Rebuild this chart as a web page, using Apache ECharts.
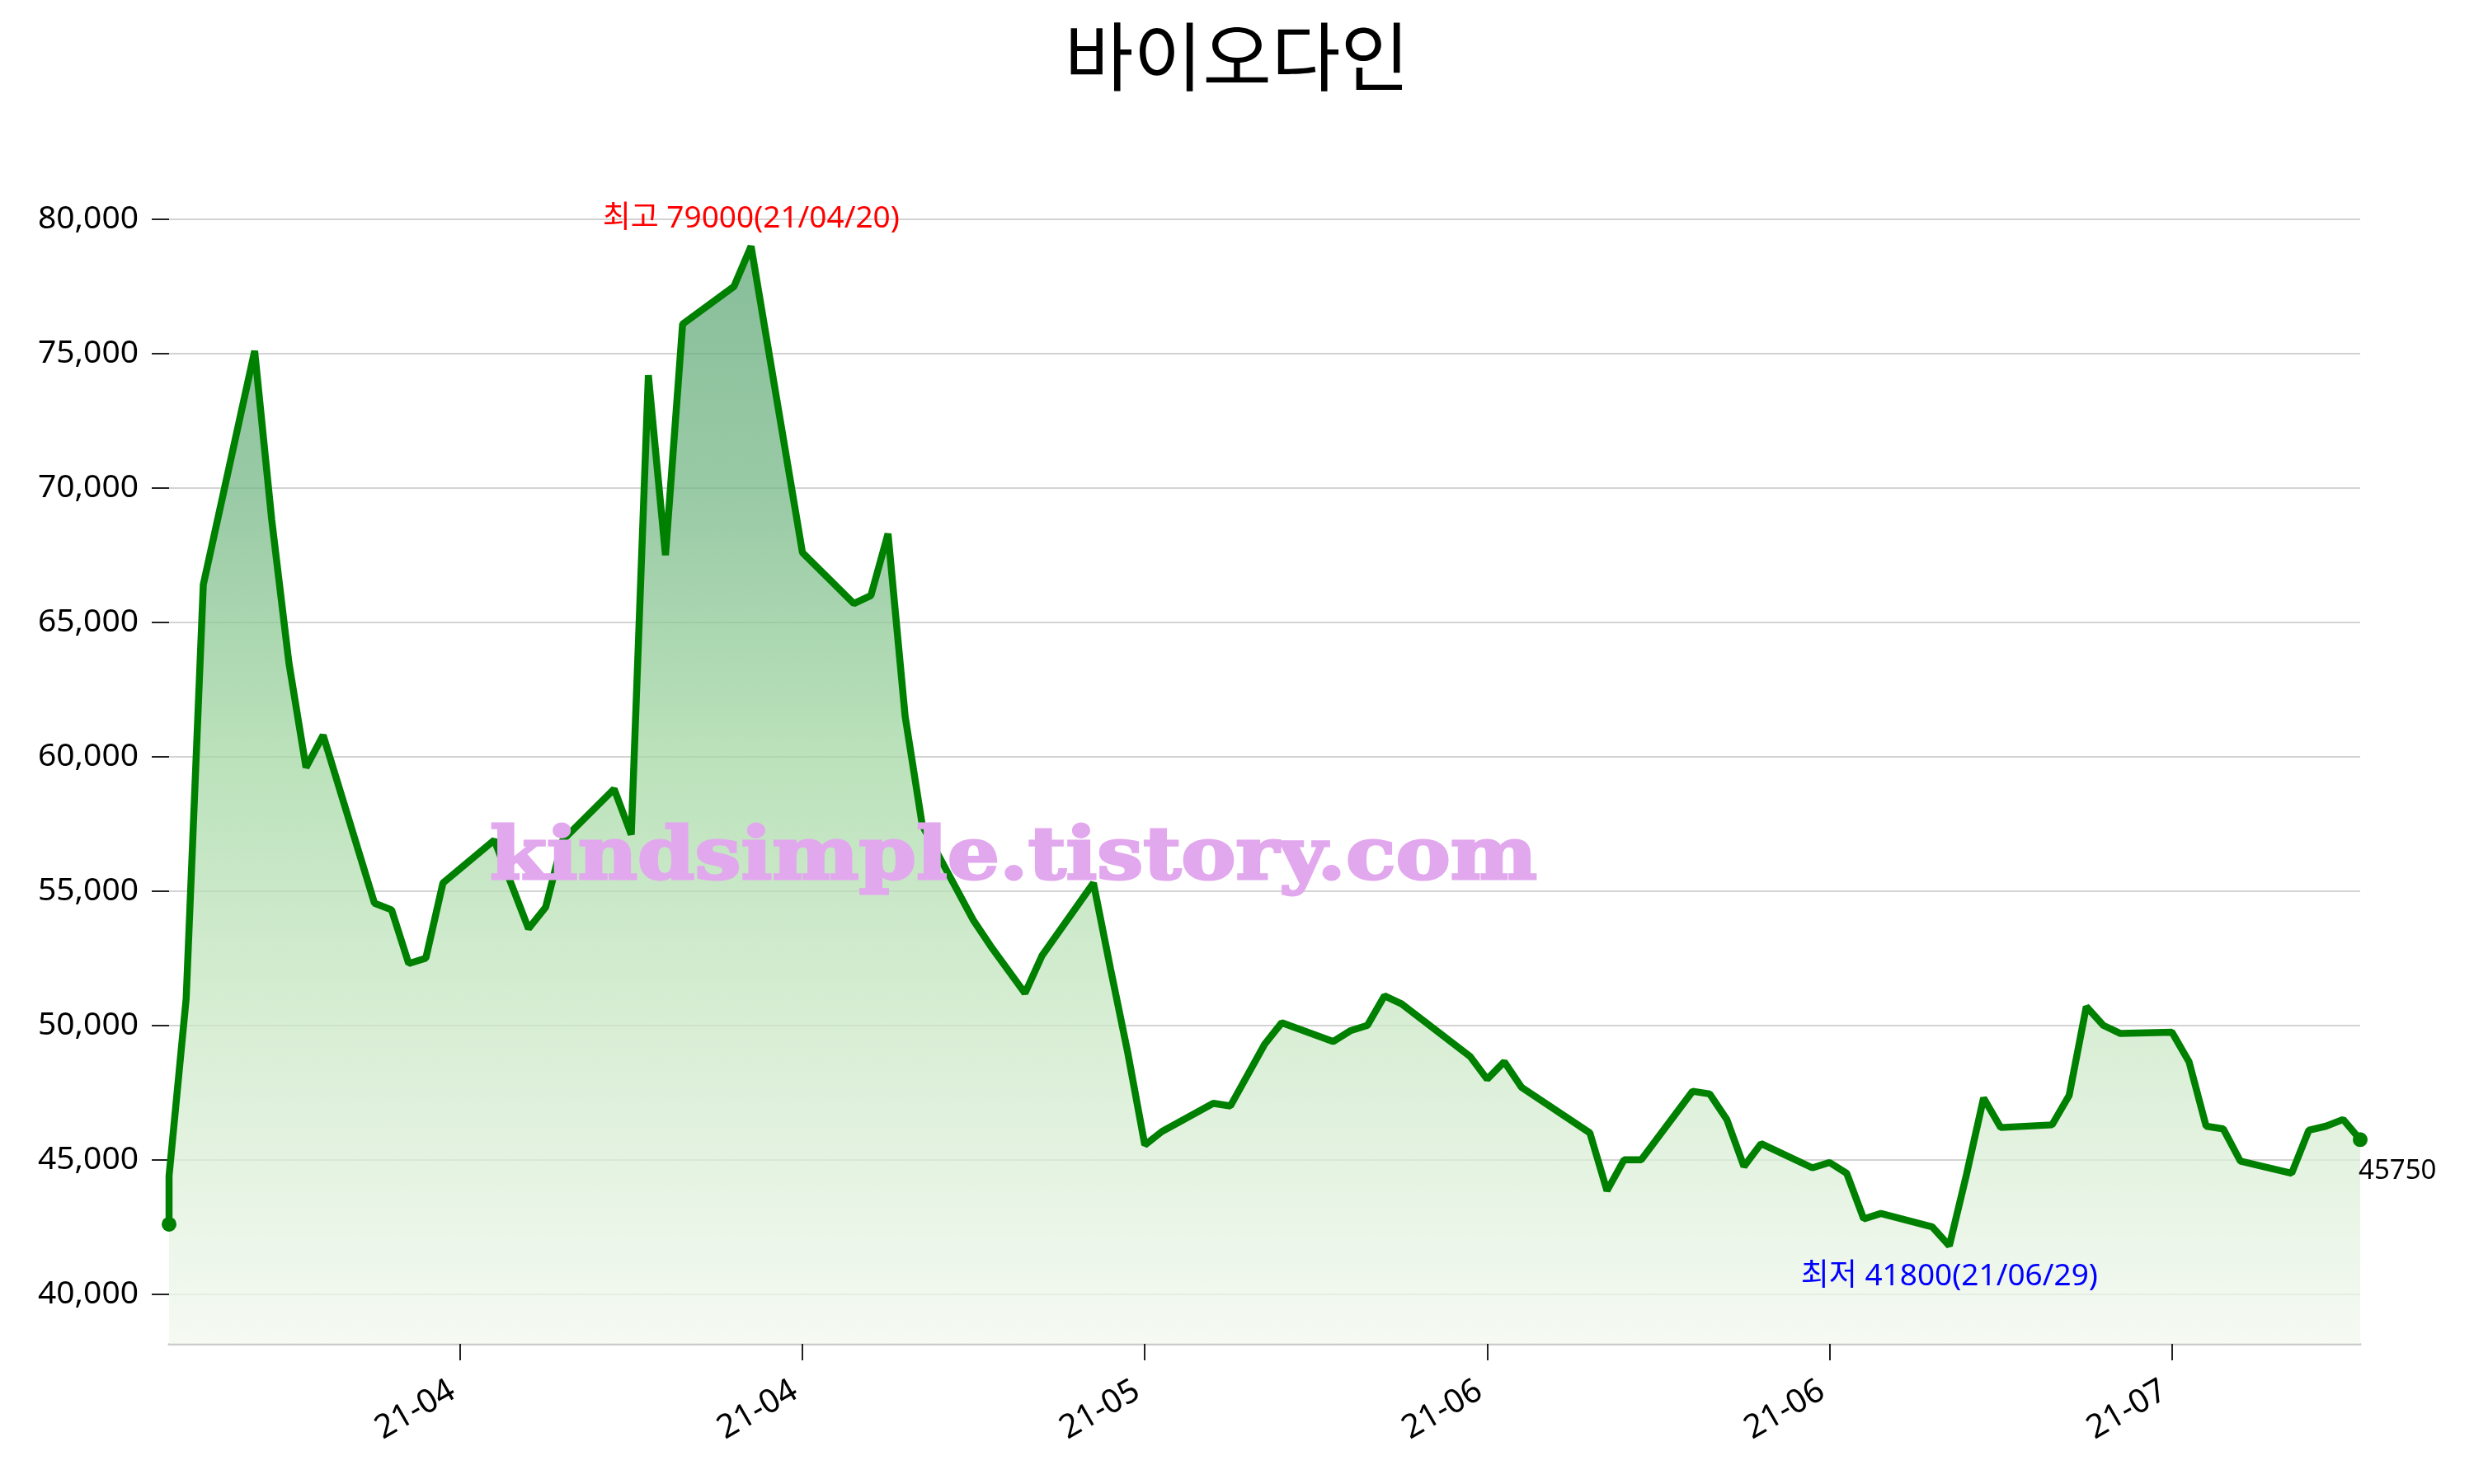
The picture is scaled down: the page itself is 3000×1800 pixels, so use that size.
<!DOCTYPE html>
<html><head><meta charset="utf-8">
<script src="https://cdn.jsdelivr.net/npm/echarts@6/dist/echarts.min.js"></script>
<style>html,body{margin:0;padding:0;background:#fff}#c{width:3000px;height:1800px}</style>
</head><body><div id="c"></div>
<script>
const chartTitle = '바이오다인';
const watermarkText = 'kindsimple.tistory.com';
const dates = ['2021-03-17','2021-03-17','2021-03-18','2021-03-19','2021-03-22','2021-03-23','2021-03-24','2021-03-25','2021-03-26','2021-03-29','2021-03-30','2021-03-31','2021-04-01','2021-04-02','2021-04-05','2021-04-07','2021-04-08','2021-04-09','2021-04-12','2021-04-13','2021-04-14','2021-04-15','2021-04-16','2021-04-19','2021-04-20','2021-04-23','2021-04-26','2021-04-27','2021-04-28','2021-04-29','2021-04-30','2021-05-03','2021-05-04','2021-05-06','2021-05-07','2021-05-10','2021-05-11','2021-05-12','2021-05-13','2021-05-14','2021-05-17','2021-05-18','2021-05-20','2021-05-21','2021-05-24','2021-05-25','2021-05-26','2021-05-27','2021-05-28','2021-06-01','2021-06-02','2021-06-03','2021-06-04','2021-06-08','2021-06-09','2021-06-10','2021-06-11','2021-06-14','2021-06-15','2021-06-16','2021-06-17','2021-06-18','2021-06-21','2021-06-22','2021-06-23','2021-06-24','2021-06-25','2021-06-28','2021-06-29','2021-06-30','2021-07-01','2021-07-02','2021-07-05','2021-07-06','2021-07-07','2021-07-08','2021-07-09','2021-07-12','2021-07-13','2021-07-14','2021-07-15','2021-07-16','2021-07-19','2021-07-20','2021-07-21','2021-07-22','2021-07-23'];
const closes = [42600,44400,51000,66400,75100,68800,63500,59600,60800,54550,54300,52300,52500,55300,56900,53600,54400,56900,58800,57100,74200,67500,76100,77500,79000,67600,65700,66000,68300,61500,57450,53900,52950,51200,52600,55300,52100,49000,45550,46050,47100,47000,49300,50100,49400,49800,50000,51100,50800,48850,48000,48650,47700,46000,43850,45000,45000,47550,47450,46500,44750,45600,44700,44900,44500,42800,43000,42500,41800,44450,47300,46200,46300,47400,50700,50000,49700,49750,48650,46250,46150,44950,44500,46100,46250,46500,45750];
const xTickDates = ['2021-04-03','2021-04-23','2021-05-13','2021-06-02','2021-06-22','2021-07-12'];
const yTicks = [40000,45000,50000,55000,60000,65000,70000,75000,80000];
const yMin = 38150, yMax = 80000;

function ts(s){const p=s.split('-').map(Number);return Date.UTC(p[0],p[1]-1,p[2]);}
function shortDate(s){return s.slice(2).replace(/-/g,'/');}
const seriesData = dates.map((d,i)=>[ts(d), closes[i]]);
let maxI=0,minI=0;
closes.forEach((v,i)=>{ if(v>closes[maxI]) maxI=i; if(v<closes[minI]) minI=i; });
const lastI = closes.length-1;
const FONT = "'Noto Sans', 'Noto Sans CJK KR', sans-serif";

const chart = echarts.init(document.getElementById('c'), null, {renderer:'canvas'});
chart.setOption({
  animation:false,
  backgroundColor:'#ffffff',
  title:{text:chartTitle,left:'center',top:18,
    textStyle:{fontFamily:"'Noto Sans CJK KR', sans-serif",fontSize:91,fontWeight:'normal',color:'#000'}},
  grid:{left:205,right:138,top:266,bottom:170},
  xAxis:{type:'value',min:ts(dates[0]),max:ts(dates[lastI]),scale:true,
    axisLine:{show:true,lineStyle:{color:'#cccccc',width:3}},
    axisTick:{show:true,customValues:xTickDates.map(ts),length:20,lineStyle:{color:'#222',width:2}},
    axisLabel:{customValues:xTickDates.map(ts),rotate:30,fontFamily:FONT,fontSize:40,color:'#000',margin:49,
      formatter:function(v){const d=new Date(v);return String(d.getUTCFullYear()).slice(2)+'-'+String(d.getUTCMonth()+1).padStart(2,'0')+' ';}},
    splitLine:{show:false}},
  yAxis:{type:'value',min:yMin,max:yMax,splitNumber:8,
    axisLine:{show:false},
    axisTick:{show:true,customValues:yTicks,length:21,lineStyle:{color:'#222',width:2}},
    axisLabel:{customValues:yTicks,fontFamily:FONT,fontSize:39,color:'#000',margin:37,
      formatter:function(v){return Number(v).toLocaleString('en-US');}},
    splitLine:{show:true,lineStyle:{color:'#d3d3d3',width:2}}},
  graphic:[{type:'text',z:100,x:1229,y:1043,scaleX:1.13,style:{text:watermarkText,x:0,y:0,align:'center',verticalAlign:'middle',
    font:'bold 88px "DejaVu Serif"',fill:'#e2a8ee',stroke:'#e2a8ee',lineWidth:3}}],
  series:[{
    type:'line',data:seriesData,showSymbol:true,showAllSymbol:true,symbol:'circle',
    symbolSize:function(v,p){return (p.dataIndex===0||p.dataIndex===lastI)?18:0;},
    lineStyle:{color:'#008000',width:8.5},itemStyle:{color:'#008000'},
    areaStyle:{origin:'start',opacity:1,color:new echarts.graphic.LinearGradient(0,0,0,1,[
      {offset:0,color:'rgba(96,168,120,0.75)'},{offset:0.22,color:'rgba(118,184,135,0.75)'},
      {offset:0.465,color:'rgba(164,216,164,0.75)'},{offset:0.71,color:'rgba(203,232,198,0.75)'},
      {offset:1,color:'rgba(242,248,239,0.75)'}])},
    clip:true,
    endLabel:{show:true,formatter:function(p){return String(p.value[1]);},fontFamily:FONT,fontSize:33,color:'#000',
      align:'left',verticalAlign:'middle',distance:0,offset:[-2,38]},
    markPoint:{symbol:'circle',symbolSize:0,silent:true,
      data:[
        {type:'max',label:{show:true,position:'inside',formatter:'최고 '+closes[maxI]+'('+shortDate(dates[maxI])+')',color:'#ff0000',fontFamily:FONT,fontSize:37,offset:[0,-33]}},
        {type:'min',label:{show:true,position:'inside',formatter:'최저 '+closes[minI]+'('+shortDate(dates[minI])+')',color:'#0000ff',fontFamily:FONT,fontSize:37,offset:[0,37]}}
      ]}
  }]
});
</script></body></html>
